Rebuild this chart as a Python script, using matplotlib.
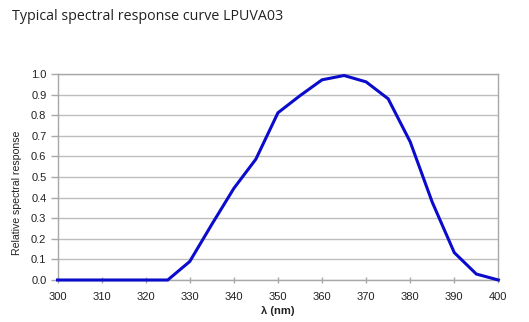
import matplotlib
matplotlib.use("Agg")
import matplotlib.pyplot as plt

wavelength = [300, 305, 310, 315, 320, 325, 330, 335, 340, 345, 350, 355, 360, 365, 370, 375, 380, 385, 390, 395, 400]
response = [0.0, 0.0, 0.0, 0.0, 0.0, 0.0, 0.09, 0.27, 0.445, 0.587, 0.812, 0.895, 0.972, 0.993, 0.962, 0.880, 0.671, 0.378, 0.133, 0.029, 0.0]
x_ticks = list(range(300, 401, 10))
y_ticks = [i / 10 for i in range(0, 11)]

fig = plt.figure(figsize=(5.29, 3.22), dpi=100)
fig.patch.set_facecolor("white")
ax = fig.add_axes([0.1087, 0.1304, 0.8334, 0.6396])

ax.plot(wavelength, response, color="#0b0bcc", lw=2.2, solid_joinstyle="miter", clip_on=False, zorder=3)
ax.set_xlim(300, 400)
ax.set_ylim(0, 1.0)
ax.set_xticks(x_ticks)
ax.set_yticks(y_ticks)
ax.set_yticklabels([f"{v:.1f}" for v in y_ticks])
ax.grid(axis="y", color="#bdbdbd", lw=1.0)
ax.set_axisbelow(True)
for s in ax.spines.values():
    s.set_color("#a8a8a8")
    s.set_linewidth(1.0)
ax.tick_params(axis="both", colors="#a8a8a8", labelcolor="#222222", length=5, width=1.0, labelsize=8)
ax.tick_params(axis="y", pad=3)
ax.tick_params(axis="x", direction="inout", length=5, pad=6)
for lab in ax.get_xticklabels() + ax.get_yticklabels():
    lab.set_family("Liberation Sans")

ax.set_xlabel("λ (nm)", fontsize=8, fontweight="bold", family="Liberation Sans", color="#222222", labelpad=3)
ax.set_ylabel("Relative spectral response", fontsize=7.6, family="Liberation Sans", color="#222222")
ax.yaxis.set_label_coords(-35.5 / 440.5, 0.425)

fig.text(12 / 529, 1 - 17 / 322, "Typical spectral response curve LPUVA03", fontsize=10.25, family="Open Sans", color="#222222", ha="left", va="center")

fig.savefig("out.png", dpi=100)
